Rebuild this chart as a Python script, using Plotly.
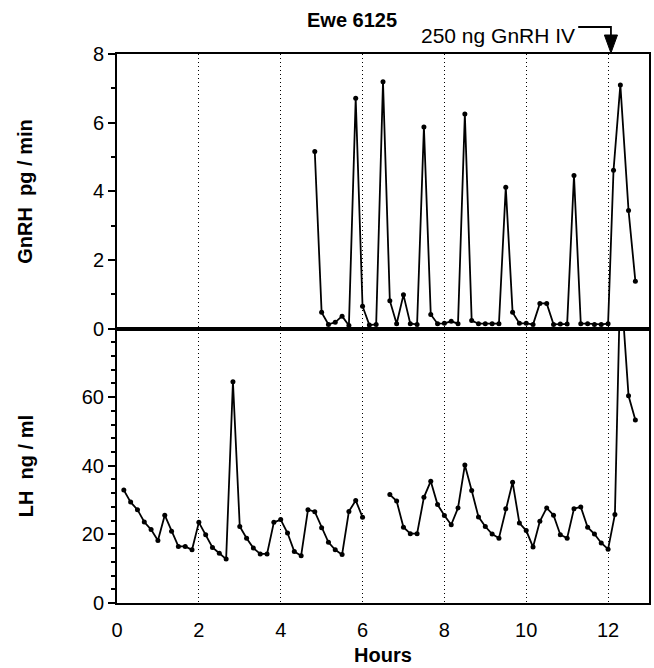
import plotly.graph_objects as go
from plotly.subplots import make_subplots

# ---- data (hours from start of sampling) ----
gnrh_hours = [4.833, 5.0, 5.167, 5.333, 5.5, 5.667, 5.833, 6.0, 6.167, 6.333, 6.5, 6.667,
              6.833, 7.0, 7.167, 7.333, 7.5, 7.667, 7.833, 8.0, 8.167, 8.333, 8.5, 8.667,
              8.833, 9.0, 9.167, 9.333, 9.5, 9.667, 9.833, 10.0, 10.167, 10.333, 10.5, 10.667,
              10.833, 11.0, 11.167, 11.333, 11.5, 11.667, 11.833, 12.0, 12.133, 12.3, 12.5, 12.667]
gnrh_values = [5.16, 0.47, 0.12, 0.18, 0.36, 0.09, 6.71, 0.65, 0.10, 0.12, 7.19, 0.81,
               0.14, 0.98, 0.14, 0.12, 5.87, 0.41, 0.14, 0.15, 0.21, 0.14, 6.25, 0.23,
               0.14, 0.14, 0.14, 0.14, 4.12, 0.47, 0.15, 0.15, 0.12, 0.73, 0.73, 0.12,
               0.13, 0.13, 4.46, 0.14, 0.14, 0.12, 0.12, 0.14, 4.61, 7.10, 3.44, 1.38]

lh_hours = [0.167, 0.333, 0.5, 0.667, 0.833, 1.0, 1.167, 1.333, 1.5, 1.667, 1.833, 2.0,
            2.167, 2.333, 2.5, 2.667, 2.833, 3.0, 3.167, 3.333, 3.5, 3.667, 3.833, 4.0,
            4.167, 4.333, 4.5, 4.667, 4.833, 5.0, 5.167, 5.333, 5.5, 5.667, 5.833, 6.0,
            None,
            6.667, 6.833, 7.0, 7.167, 7.333, 7.5, 7.667, 7.833, 8.0, 8.167, 8.333, 8.5,
            8.667, 8.833, 9.0, 9.167, 9.333, 9.5, 9.667, 9.833, 10.0, 10.167, 10.333, 10.5,
            10.667, 10.833, 11.0, 11.167, 11.333, 11.5, 11.667, 11.833, 12.0, 12.167, 12.3,
            12.5, 12.667]
lh_values = [32.9, 29.4, 27.2, 23.6, 21.4, 18.2, 25.6, 20.9, 16.5, 16.5, 15.5, 23.5,
             19.9, 16.2, 14.5, 12.8, 64.5, 22.3, 18.9, 16.0, 14.3, 14.3, 23.5, 24.3,
             20.4, 15.0, 13.8, 27.2, 26.6, 21.9, 17.7, 15.5, 14.1, 26.7, 29.9, 25.0,
             None,
             31.6, 29.7, 22.1, 20.2, 20.2, 30.8, 35.5, 28.7, 25.5, 22.8, 27.7, 40.2,
             32.8, 25.1, 22.3, 20.1, 18.9, 27.5, 35.2, 23.3, 21.1, 16.3, 23.8, 27.7,
             25.6, 19.9, 18.9, 27.5, 28.0, 22.1, 20.1, 17.5, 15.7, 25.8, 95.0,
             60.4, 53.3]

x_ticks = [0, 2, 4, 6, 8, 10, 12]
gnrh_ticks = [0, 2, 4, 6, 8]
lh_ticks = [0, 20, 40, 60]
injection_hour = 12.07

FONT = "Liberation Sans, Arial, Helvetica, sans-serif"

fig = make_subplots(rows=2, cols=1, shared_xaxes=True, vertical_spacing=0)

fig.add_trace(go.Scatter(x=gnrh_hours, y=gnrh_values, mode="lines+markers",
                         line=dict(color="black", width=1.8),
                         marker=dict(color="black", size=5),
                         cliponaxis=True, showlegend=False), row=1, col=1)
fig.add_trace(go.Scatter(x=lh_hours, y=lh_values, mode="lines+markers",
                         line=dict(color="black", width=1.8),
                         marker=dict(color="black", size=5),
                         connectgaps=False, cliponaxis=True, showlegend=False), row=2, col=1)

xcommon = dict(range=[0, 13], tickmode="array", tickvals=x_ticks,
               showgrid=True, gridcolor="black", gridwidth=1, griddash="1px,3px",
               showline=True, linecolor="black", linewidth=2, mirror=True,
               ticks="", zeroline=False)
fig.update_xaxes(**xcommon)
fig.update_xaxes(showticklabels=False, row=1, col=1)
fig.update_xaxes(showticklabels=True, ticklabelstandoff=8,
                 tickfont=dict(family=FONT, size=20, color="black"),
                 row=2, col=1)

ycommon = dict(showgrid=False, zeroline=False, showline=True, linecolor="black",
               linewidth=2, mirror=True, ticks="outside", ticklen=7, tickwidth=2,
               tickcolor="black", tickfont=dict(family=FONT, size=20, color="black"))
fig.update_yaxes(**ycommon)
fig.update_yaxes(range=[0, 8], tickmode="array", tickvals=gnrh_ticks,
                 minor=dict(tickmode="linear", tick0=0, dtick=1, ticks="outside",
                            ticklen=4, tickwidth=1.5, tickcolor="black"),
                 row=1, col=1)
fig.update_yaxes(range=[0, 80], tickmode="array", tickvals=lh_ticks,
                 minor=dict(tickmode="linear", tick0=0, dtick=4, ticks="outside",
                            ticklen=4, tickwidth=1.5, tickcolor="black"),
                 row=2, col=1)

fig.update_layout(yaxis=dict(domain=[0.5, 1.0]), yaxis2=dict(domain=[0.0, 0.5]))

annotations = [
    dict(text="<b>Ewe 6125</b>", xref="paper", yref="paper", x=0.442, y=1.062,
         xanchor="center", yanchor="middle", showarrow=False,
         font=dict(family=FONT, size=20, color="black")),
    dict(text="250 ng GnRH IV", xref="x", yref="paper", x=11.25, y=1.0346,
         xanchor="right", yanchor="middle", showarrow=False,
         font=dict(family=FONT, size=21, color="black")),
    dict(text="<b>GnRH  pg / min</b>", xref="paper", yref="paper", x=-0.172, y=0.75,
         xanchor="center", yanchor="middle", textangle=-90, showarrow=False,
         font=dict(family=FONT, size=20, color="black")),
    dict(text="<b>LH  ng / ml</b>", xref="paper", yref="paper", x=-0.172, y=0.25,
         xanchor="center", yanchor="middle", textangle=-90, showarrow=False,
         font=dict(family=FONT, size=20, color="black")),
    dict(text="<b>Hours</b>", xref="paper", yref="paper", x=0.5, y=-0.095,
         xanchor="center", yanchor="middle", showarrow=False,
         font=dict(family=FONT, size=20, color="black")),
]

shapes = [
    dict(type="path", xref="x", yref="paper",
         path=f"M 11.27,1.0492 L {injection_hour},1.0492 L {injection_hour},1.0346",
         line=dict(color="black", width=1.8)),
    dict(type="path", xref="x", yref="paper",
         path=f"M {injection_hour-0.16},1.0346 L {injection_hour+0.16},1.0346 L {injection_hour},1.0018 Z",
         fillcolor="black", line=dict(color="black", width=1)),
]

fig.update_layout(width=654, height=668, margin=dict(l=117, r=3, t=54, b=65),
                  plot_bgcolor="white", paper_bgcolor="white",
                  annotations=annotations, shapes=shapes,
                  font=dict(family=FONT, size=20, color="black"))

fig.write_html("out.html", config={"displayModeBar": False},
               post_script="document.body.style.margin='0';document.body.style.overflow='hidden';")
